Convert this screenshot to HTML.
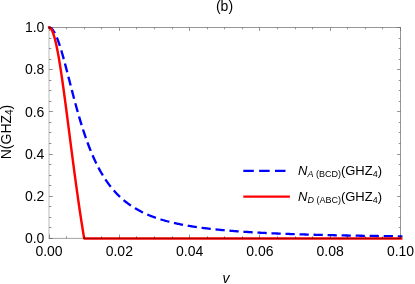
<!DOCTYPE html>
<html><head><meta charset="utf-8"><style>
html,body{margin:0;padding:0;background:#fff;overflow:hidden;font-family:"Liberation Sans",sans-serif;}
svg{display:block}
</style></head><body>
<svg width="415" height="284" viewBox="0 0 415 284">
<rect width="415" height="284" fill="#fff"/>
<g font-family="'Liberation Sans', sans-serif" font-size="14" fill="#000">
<text x="224.5" y="11" text-anchor="middle">(b)</text>
<text x="226" y="282.5" text-anchor="middle" font-style="italic">v</text>
<text transform="translate(11.3,132) rotate(-90)" text-anchor="middle">N(GHZ<tspan font-size="10" dy="2">4</tspan><tspan dy="-2">)</tspan></text>
<text x="49.0" y="255.5" text-anchor="middle">0.00</text>
<text x="119.3" y="255.5" text-anchor="middle">0.02</text>
<text x="189.6" y="255.5" text-anchor="middle">0.04</text>
<text x="259.9" y="255.5" text-anchor="middle">0.06</text>
<text x="330.2" y="255.5" text-anchor="middle">0.08</text>
<text x="400.5" y="255.5" text-anchor="middle">0.10</text>
<text x="44.4" y="243.0" text-anchor="end">0.0</text>
<text x="44.4" y="200.8" text-anchor="end">0.2</text>
<text x="44.4" y="158.6" text-anchor="end">0.4</text>
<text x="44.4" y="116.5" text-anchor="end">0.6</text>
<text x="44.4" y="74.3" text-anchor="end">0.8</text>
<text x="44.4" y="32.1" text-anchor="end">1.0</text>
<text x="298" y="174.9" font-size="13"><tspan font-style="italic">N</tspan><tspan font-size="9" dy="1.6" font-style="italic">A</tspan><tspan font-size="9"> (BCD)</tspan><tspan dy="-1.6">(GHZ</tspan><tspan font-size="9" dy="2">4</tspan><tspan dy="-2">)</tspan></text>
<text x="298" y="200.9" font-size="13"><tspan font-style="italic">N</tspan><tspan font-size="9" dy="1.6" font-style="italic">D</tspan><tspan font-size="9"> (ABC)</tspan><tspan dy="-1.6">(GHZ</tspan><tspan font-size="9" dy="2">4</tspan><tspan dy="-2">)</tspan></text>
</g>
<clipPath id="c"><rect x="46.8" y="25.3" width="355.9" height="215.3"/></clipPath>
<g clip-path="url(#c)" fill="none" stroke-linejoin="round">
<g transform="translate(49.0,0) scale(1.028,1)"><path d="M-0.85,27.63 L0.01,27.50 L0.87,27.64 L1.74,28.04 L2.60,28.71 L3.47,29.65 L4.33,30.83 L5.19,32.26 L6.06,33.92 L6.92,35.81 L7.79,37.90 L8.65,40.19 L9.52,42.66 L10.38,45.30 L11.24,48.08 L12.11,51.00 L12.97,54.04 L13.84,57.18 L14.70,60.41 L15.57,63.70 L16.43,67.06 L17.29,70.46 L18.16,73.90 L19.02,77.35 L19.89,80.81 L20.75,84.27 L21.62,87.72 L22.48,91.15 L23.34,94.55 L24.21,97.92 L25.07,101.25 L25.94,104.53 L26.80,107.76 L27.67,110.94 L28.53,114.06 L29.39,117.12 L30.26,120.12 L31.12,123.06 L31.99,125.93 L32.85,128.73 L33.71,131.47 L34.58,134.14 L35.44,136.74 L36.31,139.27 L37.17,141.74 L38.04,144.14 L38.90,146.48 L39.76,148.75 L40.63,150.96 L41.49,153.11 L42.36,155.19 L43.22,157.22 L44.09,159.19 L44.95,161.10 L45.81,162.95 L46.68,164.75 L47.54,166.50 L48.41,168.20 L49.27,169.85 L50.14,171.45 L51.00,173.00 L51.86,174.51 L52.73,175.97 L53.59,177.39 L54.46,178.77 L55.32,180.10 L56.19,181.40 L57.05,182.66 L57.91,183.89 L58.78,185.08 L59.64,186.23 L60.51,187.35 L61.37,188.44 L62.23,189.50 L63.10,190.53 L63.96,191.53 L64.83,192.50 L65.69,193.44 L66.56,194.36 L67.42,195.25 L68.28,196.12 L69.15,196.96 L70.01,197.79 L70.88,198.58 L71.74,199.36 L72.61,200.12 L73.47,200.85 L74.33,201.57 L75.20,202.27 L76.06,202.95 L76.93,203.61 L77.79,204.25 L78.66,204.88 L79.52,205.49 L80.38,206.09 L81.25,206.67 L82.11,207.23 L82.98,207.79 L83.84,208.32 L84.71,208.85 L85.57,209.36 L86.43,209.86 L87.30,210.35 L88.16,210.82 L89.03,211.29 L89.89,211.74 L90.75,212.18 L91.62,212.62 L92.48,213.04 L93.35,213.45 L94.21,213.85 L95.08,214.25 L95.94,214.63 L96.80,215.01 L97.67,215.37 L98.53,215.73 L99.40,216.08 L100.26,216.43 L101.13,216.76 L101.99,217.09 L102.85,217.41 L103.72,217.73 L104.58,218.03 L105.45,218.33 L106.31,218.63 L107.18,218.92 L108.04,219.20 L108.90,219.48 L109.77,219.75 L110.63,220.01 L111.50,220.27 L112.36,220.52 L113.23,220.77 L114.09,221.02 L114.95,221.26 L115.82,221.49 L116.68,221.72 L117.55,221.95 L118.41,222.17 L119.27,222.38 L120.14,222.60 L121.00,222.81 L121.87,223.01 L122.73,223.21 L123.60,223.41 L124.46,223.60 L125.32,223.79 L126.19,223.97 L127.05,224.16 L127.92,224.34 L128.78,224.51 L129.65,224.68 L130.51,224.85 L131.37,225.02 L132.24,225.18 L133.10,225.34 L133.97,225.50 L134.83,225.66 L135.70,225.81 L136.56,225.96 L137.42,226.10 L138.29,226.25 L139.15,226.39 L140.02,226.53 L140.88,226.67 L141.75,226.80 L142.61,226.94 L143.47,227.07 L144.34,227.19 L145.20,227.32 L146.07,227.44 L146.93,227.57 L147.79,227.69 L148.66,227.80 L149.52,227.92 L150.39,228.03 L151.25,228.15 L152.12,228.26 L152.98,228.37 L153.84,228.47 L154.71,228.58 L155.57,228.68 L156.44,228.78 L157.30,228.88 L158.17,228.98 L159.03,229.08 L159.89,229.18 L160.76,229.27 L161.62,229.37 L162.49,229.46 L163.35,229.55 L164.22,229.64 L165.08,229.72 L165.94,229.81 L166.81,229.90 L167.67,229.98 L168.54,230.06 L169.40,230.14 L170.27,230.22 L171.13,230.30 L171.99,230.38 L172.86,230.46 L173.72,230.53 L174.59,230.61 L175.45,230.68 L176.31,230.76 L177.18,230.83 L178.04,230.90 L178.91,230.97 L179.77,231.04 L180.64,231.10 L181.50,231.17 L182.36,231.24 L183.23,231.30 L184.09,231.37 L184.96,231.43 L185.82,231.49 L186.69,231.55 L187.55,231.62 L188.41,231.68 L189.28,231.74 L190.14,231.79 L191.01,231.85 L191.87,231.91 L192.74,231.96 L193.60,232.02 L194.46,232.08 L195.33,232.13 L196.19,232.18 L197.06,232.24 L197.92,232.29 L198.79,232.34 L199.65,232.39 L200.51,232.44 L201.38,232.49 L202.24,232.54 L203.11,232.59 L203.97,232.64 L204.83,232.68 L205.70,232.73 L206.56,232.78 L207.43,232.82 L208.29,232.87 L209.16,232.91 L210.02,232.95 L210.88,233.00 L211.75,233.04 L212.61,233.08 L213.48,233.12 L214.34,233.17 L215.21,233.21 L216.07,233.25 L216.93,233.29 L217.80,233.33 L218.66,233.37 L219.53,233.40 L220.39,233.44 L221.26,233.48 L222.12,233.52 L222.98,233.55 L223.85,233.59 L224.71,233.63 L225.58,233.66 L226.44,233.70 L227.30,233.73 L228.17,233.77 L229.03,233.80 L229.90,233.84 L230.76,233.87 L231.63,233.90 L232.49,233.93 L233.35,233.97 L234.22,234.00 L235.08,234.03 L235.95,234.06 L236.81,234.09 L237.68,234.12 L238.54,234.15 L239.40,234.18 L240.27,234.21 L241.13,234.24 L242.00,234.27 L242.86,234.30 L243.73,234.33 L244.59,234.36 L245.45,234.39 L246.32,234.41 L247.18,234.44 L248.05,234.47 L248.91,234.49 L249.78,234.52 L250.64,234.55 L251.50,234.57 L252.37,234.60 L253.23,234.62 L254.10,234.65 L254.96,234.67 L255.82,234.70 L256.69,234.72 L257.55,234.75 L258.42,234.77 L259.28,234.79 L260.15,234.82 L261.01,234.84 L261.87,234.86 L262.74,234.89 L263.60,234.91 L264.47,234.93 L265.33,234.95 L266.20,234.98 L267.06,235.00 L267.92,235.02 L268.79,235.04 L269.65,235.06 L270.52,235.08 L271.38,235.10 L272.25,235.12 L273.11,235.15 L273.97,235.17 L274.84,235.19 L275.70,235.21 L276.57,235.22 L277.43,235.24 L278.30,235.26 L279.16,235.28 L280.02,235.30 L280.89,235.32 L281.75,235.34 L282.62,235.36 L283.48,235.38 L284.34,235.39 L285.21,235.41 L286.07,235.43 L286.94,235.45 L287.80,235.46 L288.67,235.48 L289.53,235.50 L290.39,235.52 L291.26,235.53 L292.12,235.55 L292.99,235.57 L293.85,235.58 L294.72,235.60 L295.58,235.62 L296.44,235.63 L297.31,235.65 L298.17,235.66 L299.04,235.68 L299.90,235.69 L300.77,235.71 L301.63,235.72 L302.49,235.74 L303.36,235.75 L304.22,235.77 L305.09,235.78 L305.95,235.80 L306.82,235.81 L307.68,235.83 L308.54,235.84 L309.41,235.86 L310.27,235.87 L311.14,235.88 L312.00,235.90 L312.86,235.91 L313.73,235.92 L314.59,235.94 L315.46,235.95 L316.32,235.96 L317.19,235.98 L318.05,235.99 L318.91,236.00 L319.78,236.02 L320.64,236.03 L321.51,236.04 L322.37,236.05 L323.24,236.07 L324.10,236.08 L324.96,236.09 L325.83,236.10 L326.69,236.11 L327.56,236.13 L328.42,236.14 L329.29,236.15 L330.15,236.16 L331.01,236.17 L331.88,236.18 L332.74,236.20 L333.61,236.21 L334.47,236.22 L335.34,236.23 L336.20,236.24 L337.06,236.25 L337.93,236.26 L338.79,236.27 L339.66,236.28 L340.52,236.29 L341.38,236.31 L342.25,236.32 L343.11,236.33 L343.98,236.34" stroke="#0000ff" stroke-width="2.3" stroke-dasharray="9.0 4.65" stroke-dashoffset="13.35"/></g>
<path d="M48.12,27.76 L48.58,27.56 L49.03,27.50 L49.49,27.58 L49.95,27.80 L50.40,28.17 L50.86,28.67 L51.31,29.32 L51.77,30.10 L52.23,31.02 L52.68,32.08 L53.14,33.27 L53.59,34.58 L54.05,36.03 L54.51,37.60 L54.96,39.30 L55.42,41.11 L55.87,43.04 L56.33,45.08 L56.79,47.23 L57.24,49.48 L57.70,51.84 L58.15,54.29 L58.61,56.84 L59.07,59.47 L59.52,62.19 L59.98,64.99 L60.43,67.87 L60.89,70.81 L61.35,73.83 L61.80,76.91 L62.26,80.04 L62.72,83.23 L63.17,86.47 L63.63,89.76 L64.08,93.09 L64.54,96.46 L65.00,99.86 L65.45,103.30 L65.91,106.76 L66.36,110.24 L66.82,113.74 L67.28,117.26 L67.73,120.79 L68.19,124.34 L68.64,127.89 L69.10,131.44 L69.56,134.99 L70.01,138.55 L70.47,142.10 L70.92,145.64 L71.38,149.17 L71.84,152.69 L72.29,156.20 L72.75,159.70 L73.20,163.17 L73.66,166.63 L74.12,170.07 L74.57,173.49 L75.03,176.88 L75.48,180.25 L75.94,183.59 L76.40,186.91 L76.85,190.19 L77.31,193.45 L77.77,196.68 L78.22,199.88 L78.68,203.04 L79.13,206.18 L79.59,209.28 L80.05,212.35 L80.50,215.38 L80.96,218.38 L81.41,221.34 L81.87,224.28 L82.33,227.17 L82.78,230.03 L83.24,232.86 L83.69,235.65 L84.15,238.40 L402.61,238.40" stroke="#ff0000" stroke-width="2.45"/>
</g>
<g stroke="#666" fill="none" style="mix-blend-mode:multiply">
<path d="M48.7,27.5H400.85M400.5,27.5V238.4" stroke-width="0.68"/>
<path d="M49.0,27.5V238.4" stroke-width="0.45"/>
<path d="M48.7,238.4H400.85" stroke-width="0.6"/>
<path d="M49.50,238.4V234.50M49.50,27.5V30.90M66.50,238.4V236.30M66.50,27.5V29.30M84.50,238.4V236.30M84.50,27.5V29.30M101.50,238.4V236.30M101.50,27.5V29.30M119.50,238.4V234.50M119.50,27.5V30.90M136.50,238.4V236.30M136.50,27.5V29.30M154.50,238.4V236.30M154.50,27.5V29.30M172.50,238.4V236.30M172.50,27.5V29.30M189.50,238.4V234.50M189.50,27.5V30.90M207.50,238.4V236.30M207.50,27.5V29.30M224.50,238.4V236.30M224.50,27.5V29.30M242.50,238.4V236.30M242.50,27.5V29.30M259.50,238.4V234.50M259.50,27.5V30.90M277.50,238.4V236.30M277.50,27.5V29.30M295.50,238.4V236.30M295.50,27.5V29.30M312.50,238.4V236.30M312.50,27.5V29.30M330.50,238.4V234.50M330.50,27.5V30.90M347.50,238.4V236.30M347.50,27.5V29.30M365.50,238.4V236.30M365.50,27.5V29.30M382.50,238.4V236.30M382.50,27.5V29.30M400.50,238.4V234.50M400.50,27.5V30.90M49.0,238.50H52.90M400.5,238.50H397.10M49.0,227.50H51.40M400.5,227.50H398.70M49.0,217.50H51.40M400.5,217.50H398.70M49.0,206.50H51.40M400.5,206.50H398.70M49.0,196.50H52.90M400.5,196.50H397.10M49.0,185.50H51.40M400.5,185.50H398.70M49.0,175.50H51.40M400.5,175.50H398.70M49.0,164.50H51.40M400.5,164.50H398.70M49.0,154.50H52.90M400.5,154.50H397.10M49.0,143.50H51.40M400.5,143.50H398.70M49.0,132.50H51.40M400.5,132.50H398.70M49.0,122.50H51.40M400.5,122.50H398.70M49.0,111.50H52.90M400.5,111.50H397.10M49.0,101.50H51.40M400.5,101.50H398.70M49.0,90.50H51.40M400.5,90.50H398.70M49.0,80.50H51.40M400.5,80.50H398.70M49.0,69.50H52.90M400.5,69.50H397.10M49.0,59.50H51.40M400.5,59.50H398.70M49.0,48.50H51.40M400.5,48.50H398.70M49.0,38.50H51.40M400.5,38.50H398.70M49.0,27.50H52.90M400.5,27.50H397.10" stroke-width="0.7"/>
</g>
<line x1="243.3" y1="170.9" x2="290" y2="170.9" stroke="#0000ff" stroke-width="2.3" stroke-dasharray="10.5 5.35"/>
<line x1="243.3" y1="196.6" x2="289.9" y2="196.6" stroke="#ff0000" stroke-width="2.3"/>
</svg>
</body></html>
